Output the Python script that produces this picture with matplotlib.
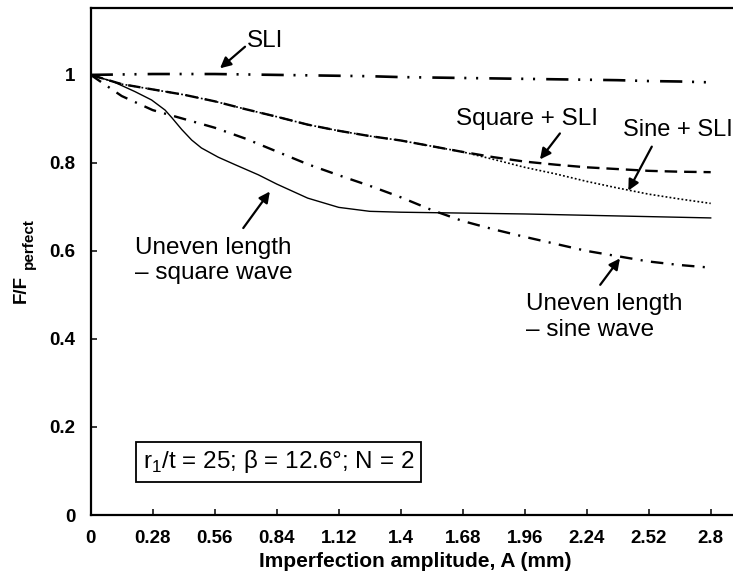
import numpy as np
import matplotlib
matplotlib.use('Agg')
import matplotlib.pyplot as plt

plt.rcParams['font.family'] = ['Liberation Sans', 'DejaVu Sans']
plt.rcParams['mathtext.fontset'] = 'custom'
plt.rcParams['mathtext.rm'] = 'Liberation Sans'
plt.rcParams['mathtext.bf'] = 'Liberation Sans:bold'
plt.rcParams['lines.scale_dashes'] = False

# 数据
x_grid = [0, 0.14, 0.28, 0.42, 0.56, 0.7, 0.84, 0.98, 1.12, 1.26, 1.4,
          1.54, 1.68, 1.82, 1.96, 2.1, 2.24, 2.38, 2.52, 2.66, 2.8]
sli = [1.0, 1.001, 1.002, 1.002, 1.002, 1.001, 1.0, 0.999, 0.998, 0.997, 0.995,
       0.994, 0.993, 0.992, 0.991, 0.99, 0.989, 0.988, 0.986, 0.985, 0.983]
square_sli = [1.0, 0.979, 0.967, 0.955, 0.94, 0.922, 0.905, 0.887, 0.873, 0.861, 0.851,
              0.838, 0.825, 0.813, 0.803, 0.796, 0.79, 0.786, 0.782, 0.78, 0.779]
sine_sli = [1.0, 0.979, 0.967, 0.955, 0.94, 0.922, 0.905, 0.887, 0.873, 0.861, 0.851,
            0.838, 0.825, 0.808, 0.79, 0.775, 0.758, 0.743, 0.729, 0.718, 0.708]
uneven_sine = [1.0, 0.952, 0.92, 0.9, 0.88, 0.855, 0.826, 0.797, 0.772, 0.748, 0.722,
               0.693, 0.668, 0.649, 0.632, 0.616, 0.6, 0.588, 0.576, 0.568, 0.562]
x_square = [0, 0.1, 0.2, 0.275, 0.336, 0.366, 0.411, 0.456, 0.5, 0.576, 0.652, 0.757,
            0.84, 0.98, 1.12, 1.26, 1.4, 1.68, 1.96, 2.24, 2.52, 2.8]
uneven_square = [1.0, 0.985, 0.962, 0.943, 0.92, 0.903, 0.876, 0.852, 0.834, 0.813, 0.796,
                 0.773, 0.752, 0.72, 0.699, 0.69, 0.688, 0.686, 0.684, 0.681, 0.678, 0.675]

xticks = [0, 0.28, 0.56, 0.84, 1.12, 1.4, 1.68, 1.96, 2.24, 2.52, 2.8]
xticklabels = ['0', '0.28', '0.56', '0.84', '1.12', '1.4', '1.68', '1.96', '2.24', '2.52', '2.8']
yticks = [0, 0.2, 0.4, 0.6, 0.8, 1]
yticklabels = ['0', '0.2', '0.4', '0.6', '0.8', '1']

fig = plt.figure(figsize=(7.33, 5.81), dpi=100)
ax = fig.add_axes([90.7/733, 66/581, 1 - 90.7/733, 507/581])

ax.plot(x_grid, sli, color='black', lw=1.9, dashes=(16, 7, 1.5, 7, 1.5, 8))
ax.plot(x_grid, square_sli, color='black', lw=1.7, dashes=(9, 5))
ax.plot(x_grid, sine_sli, color='black', lw=1.2, dashes=(1.3, 1.6))
ax.plot(x_grid, uneven_sine, color='black', lw=1.7, dashes=(9, 6, 1.5, 6))
ax.plot(x_square, uneven_square, color='black', lw=1.0)

ax.set_xlim(0, 2.8 * (733 - 90.7) / 620)
ax.set_ylim(0, 1.152)
ax.set_xticks(xticks)
ax.set_xticklabels(xticklabels, fontsize=13.5, fontweight='bold')
ax.set_yticks(yticks)
ax.set_yticklabels(yticklabels, fontsize=13.5, fontweight='bold')
ax.tick_params(direction='in', length=4.5, width=1.1)
ax.tick_params(axis='x', pad=11)
ax.tick_params(axis='y', pad=11)
for s in ['left', 'bottom', 'top']:
    ax.spines[s].set_linewidth(1.6)
ax.spines['right'].set_visible(False)

ax.set_xlabel('Imperfection amplitude, A (mm)', fontsize=15, fontweight='bold')
ax.xaxis.set_label_coords(0.505, -0.072)
# y轴标题: 下标比较大, 手动放
fig.text(21.5/733, 1 - 289/581, 'F/F', fontsize=13.5, fontweight='bold',
         rotation=90, ha='center', va='center')
fig.text(28.5/733, 1 - 244/581, 'perfect', fontsize=11, fontweight='bold',
         rotation=90, ha='center', va='center')

fs = 17.5
ax.text(0.787, 1.077, 'SLI', fontsize=fs, ha='center', va='center')
ax.text(1.969, 0.9, 'Square + SLI', fontsize=fs, ha='center', va='center')
# 原图右边被裁掉一点
ax.text(2.405, 0.875, 'Sine + SLI', fontsize=17, ha='left', va='center')
ax.text(0.2, 0.578, 'Uneven length\n– square wave', fontsize=fs, ha='left', va='center')
ax.text(1.968, 0.45, 'Uneven length\n– sine wave', fontsize=fs, ha='left', va='center')

arrows = [((0.584, 1.015), (0.697, 1.064)),
          ((2.029, 0.808), (2.119, 0.867)),
          ((2.428, 0.737), (2.534, 0.837)),
          ((0.809, 0.735), (0.689, 0.652)),
          ((2.39, 0.583), (2.301, 0.523))]
for head, tail in arrows:
    ax.annotate('', xy=head, xytext=tail,
                arrowprops=dict(arrowstyle='-|>', lw=1.6, color='black',
                                mutation_scale=16, shrinkA=0, shrinkB=0))

ax.text(0.236, 0.1205, r'r$_1$/t = 25; β = 12.6°; N = 2', fontsize=fs, ha='left', va='center',
        bbox=dict(boxstyle='square,pad=0.28', fc='white', ec='black', lw=1.3))

fig.savefig('out.png', dpi=100)
